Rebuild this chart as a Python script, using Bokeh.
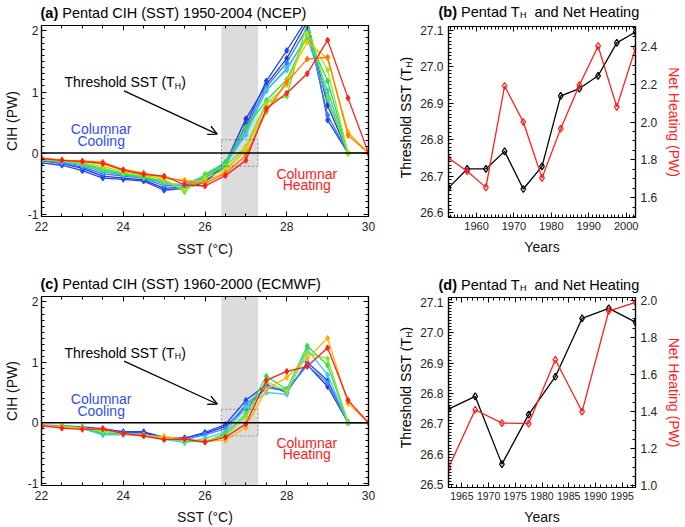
import math
from bokeh.plotting import figure
from bokeh.models import (Range1d, LinearAxis, SingleIntervalTicker, PrintfTickFormatter,
                          Label, Arrow, OpenHead, BoxAnnotation, Span, CustomLabelingPolicy)
from bokeh.layouts import row, column
from bokeh.embed import file_html
from bokeh.resources import INLINE

FONT = "Liberation Sans"

# ---------------- data ----------------
sst = [22.0, 22.5, 23.0, 23.5, 24.0, 24.5, 25.0, 25.5, 26.0, 26.5,
       27.0, 27.5, 28.0, 28.5, 29.0, 29.5, 30.0]

# (a) NCEP pentad CIH (PW), 1950-2004
ncep_1950 = [-0.13, -0.17, -0.25, -0.38, -0.41, -0.44, -0.58, -0.56, -0.46, -0.17, 0.56, 1.12, 1.55, 2.15, 0.78, 0.0, 0.0]
ncep_1955 = [-0.16, -0.20, -0.29, -0.41, -0.43, -0.46, -0.61, -0.58, -0.48, -0.21, 0.46, 1.18, 1.68, 2.20, 0.54, 0.0, 0.0]
ncep_1960 = [-0.12, -0.16, -0.23, -0.34, -0.38, -0.41, -0.54, -0.53, -0.41, -0.16, 0.42, 1.08, 1.48, 2.05, 0.62, 0.0, 0.0]
ncep_1965 = [-0.11, -0.15, -0.21, -0.31, -0.36, -0.39, -0.51, -0.51, -0.38, -0.19, 0.36, 1.02, 1.39, 1.90, 0.88, 0.0, 0.0]
ncep_1970 = [-0.10, -0.14, -0.19, -0.28, -0.34, -0.40, -0.48, -0.55, -0.36, -0.18, 0.30, 1.04, 1.36, 1.93, 1.02, 0.0, 0.0]
ncep_1975 = [-0.11, -0.12, -0.18, -0.27, -0.35, -0.41, -0.45, -0.63, -0.35, -0.15, 0.42, 0.86, 1.20, 1.92, 1.18, 0.0, 0.0]
ncep_1980 = [-0.12, -0.13, -0.17, -0.25, -0.33, -0.38, -0.47, -0.59, -0.38, -0.21, 0.10, 0.83, 0.93, 2.15, 0.91, 0.0, 0.0]
ncep_1985 = [-0.10, -0.12, -0.16, -0.22, -0.31, -0.36, -0.43, -0.61, -0.42, -0.27, 0.05, 0.80, 1.12, 1.95, 1.36, 0.0, 0.0]
ncep_1990 = [-0.09, -0.11, -0.14, -0.18, -0.28, -0.34, -0.41, -0.44, -0.48, -0.30, 0.08, 0.70, 1.18, 1.82, 1.55, 0.34, 0.0]
ncep_1995 = [-0.08, -0.12, -0.13, -0.15, -0.27, -0.33, -0.39, -0.47, -0.50, -0.33, -0.04, 0.68, 1.16, 1.54, 1.57, 0.29, 0.0]
ncep_2000 = [-0.09, -0.12, -0.14, -0.17, -0.28, -0.35, -0.38, -0.52, -0.54, -0.37, -0.12, 0.73, 0.98, 1.30, 1.85, 0.90, 0.0]

# (c) ECMWF pentad CIH (PW), 1960-2000
era_1960 = [-0.05, -0.06, -0.08, -0.12, -0.17, -0.17, -0.25, -0.25, -0.18, -0.06, 0.24, 0.58, 0.53, 0.96, 0.60, 0.0, 0.0]
era_1965 = [-0.04, -0.05, -0.07, -0.10, -0.15, -0.15, -0.24, -0.26, -0.16, -0.03, 0.37, 0.63, 0.50, 1.00, 0.70, 0.0, 0.0]
era_1970 = [-0.05, -0.07, -0.09, -0.19, -0.18, -0.20, -0.27, -0.28, -0.20, -0.10, 0.30, 0.58, 0.55, 0.95, 0.66, 0.0, 0.0]
era_1975 = [-0.06, -0.07, -0.10, -0.20, -0.20, -0.21, -0.27, -0.33, -0.26, -0.15, 0.25, 0.50, 0.47, 1.22, 0.79, 0.0, 0.0]
era_1980 = [-0.07, -0.05, -0.09, -0.17, -0.19, -0.20, -0.26, -0.30, -0.32, -0.18, 0.14, 0.77, 0.55, 1.27, 0.95, 0.0, 0.0]
era_1985 = [-0.06, -0.06, -0.08, -0.14, -0.18, -0.22, -0.25, -0.29, -0.30, -0.22, 0.10, 0.68, 0.52, 1.15, 1.06, 0.0, 0.0]
era_1990 = [-0.04, -0.07, -0.10, -0.10, -0.18, -0.21, -0.23, -0.27, -0.31, -0.29, -0.08, 0.55, 0.75, 1.06, 1.40, 0.32, 0.0]
era_1995 = [-0.05, -0.09, -0.11, -0.10, -0.18, -0.22, -0.28, -0.27, -0.32, -0.24, -0.02, 0.70, 0.85, 0.93, 1.24, 0.37, 0.0]

# threshold band and box (deg C, PW)
band_sst = [26.4, 27.3]
box_cih = [-0.22, 0.22]

# (b) NCEP pentad threshold SST and net heating
years_b = [1952.5, 1957.5, 1962.5, 1967.5, 1972.5, 1977.5, 1982.5, 1987.5, 1992.5, 1997.5, 2002.5]
th_b = [26.668, 26.72, 26.72, 26.768, 26.665, 26.727, 26.92, 26.94, 26.975, 27.065, 27.095]
heat_b = [1.81, 1.74, 1.655, 2.19, 2.0, 1.705, 1.965, 2.195, 2.40, 2.08, 2.39]

# (d) ECMWF pentad threshold SST and net heating
years_d = [1962.5, 1967.5, 1972.5, 1977.5, 1982.5, 1987.5, 1992.5, 1997.5]
th_d = [26.748, 26.79, 26.567, 26.73, 26.855, 27.047, 27.08, 27.035]
heat_d = [1.095, 1.41, 1.338, 1.335, 1.68, 1.40, 1.943, 1.99]

# ---------------- helpers ----------------
W = {' ': 278, '(': 333, ')': 333, '-': 333, '.': 278, 'A': 667, 'C': 722, 'D': 722,
     'E': 667, 'H': 722, 'I': 278, 'N': 722, 'P': 667, 'S': 667, 'T': 611, 'W': 944,
     'M': 833, 'F': 611, 'a': 556, 'd': 556, 'e': 556, 'g': 556, 'h': 556, 'i': 222,
     'l': 222, 'n': 556, 'o': 556, 'r': 333, 's': 500, 't': 278}
WB = {'(': 333, ')': 333, 'a': 556, 'b': 611, 'c': 556, 'd': 611, ' ': 278}

NO_LABELS = CustomLabelingPolicy(code="for (const i of indices) indices.unset(i)")


def tw(s, size, bold=False):
    tab = WB if bold else W
    return sum(tab.get(ch, 556) for ch in s) * size / 1000.0


def no_align(p):
    try:
        p.frame_align = False
    except AttributeError:
        pass


def label(p, x, y, text, dx=0, dy=0, size=14, color="black", bold=False,
          align="left", baseline="middle", angle=0.0):
    p.add_layout(Label(x=x, y=y, x_offset=dx, y_offset=dy, text=text, text_font=FONT,
                       text_font_size=f"{size}px", text_color=color,
                       text_font_style="bold" if bold else "normal",
                       text_align=align, text_baseline=baseline, angle=angle))


def rich(p, x, y, dx, dy, parts, size):
    off = dx
    for text, kind in parts:
        if kind == "gap":
            off += tw(text, size)
            continue
        fs = round(size * 0.62, 1) if kind == "sub" else size
        yo = dy - 3.5 if kind == "sub" else dy
        label(p, x, y, text, dx=off, dy=yo, size=fs, bold=(kind == "bold"))
        off += tw(text, fs, kind == "bold")


def rich_vertical(p, x, y, parts, size):
    total = 0
    for text, kind in parts:
        fs = round(size * 0.62, 1) if kind == "sub" else size
        total += tw(text, fs)
    off = -total / 2
    for text, kind in parts:
        fs = round(size * 0.62, 1) if kind == "sub" else size
        xo = 3.5 if kind == "sub" else 0
        label(p, x, y, text, dx=xo, dy=off, size=fs, angle=math.pi / 2)
        off += tw(text, fs)


def style_axis(ax, ticker, fmt="%d", labels=True, standoff=4, size="12px"):
    ax.ticker = ticker
    ax.formatter = PrintfTickFormatter(format=fmt)
    ax.major_tick_in = 5
    ax.major_tick_out = 0
    ax.minor_tick_in = 3
    ax.minor_tick_out = 0
    ax.axis_line_color = "black"
    ax.axis_line_width = 1.2
    ax.major_tick_line_color = "black"
    ax.minor_tick_line_color = "black"
    ax.major_tick_line_width = 1
    ax.minor_tick_line_width = 1
    ax.major_label_text_font = FONT
    ax.major_label_text_font_size = size
    ax.major_label_text_color = "#222222"
    ax.major_label_standoff = standoff
    if not labels:
        ax.major_label_policy = NO_LABELS
        ax.major_label_text_font_size = "2px"
        ax.major_label_standoff = 0
    ax.axis_label_text_font = FONT
    ax.axis_label_text_font_size = "14px"
    ax.axis_label_text_font_style = "normal"
    ax.axis_label_text_color = "#111111"


def make_fig(w, h, bl, br, bt, bb, xr, yr):
    p = figure(width=w, height=h, x_range=Range1d(*xr), y_range=Range1d(*yr),
               output_backend="svg", toolbar_location=None,
               min_border_left=bl, min_border_right=br, min_border_top=bt, min_border_bottom=bb,
               x_axis_type=None, y_axis_type=None)
    p.outline_line_color = "black"
    p.outline_line_width = 1.2
    p.background_fill_color = "white"
    p.border_fill_color = "white"
    no_align(p)
    return p


def strip(w, h):
    s = figure(width=w, height=h, x_range=Range1d(0, w), y_range=Range1d(0, h),
               output_backend="svg", toolbar_location=None, min_border=0,
               x_axis_type=None, y_axis_type=None)
    s.outline_line_color = None
    s.background_fill_color = "white"
    s.border_fill_color = "white"
    no_align(s)
    return s


def cih_panel(w, h, bl, br, bt, bb, series, lab_standoff):
    p = make_fig(w, h, bl, br, bt, bb, (22, 30), (-1.04, 2.09))
    p.add_layout(BoxAnnotation(left=band_sst[0], right=band_sst[1], fill_color="#dcdcdc",
                               fill_alpha=1.0, line_color=None, level="underlay"))
    for ys, col in series:
        p.line(sst, ys, line_color=col, line_width=1.3)
        p.scatter(sst, ys, marker="diamond", size=6, fill_color=col, line_color=col)
    p.add_layout(Span(location=0, dimension="width", line_color="black", line_width=1.5))
    p.add_layout(BoxAnnotation(left=band_sst[0], right=band_sst[1], bottom=box_cih[0], top=box_cih[1],
                               fill_alpha=0, line_color="black", line_width=1.2, line_dash="2 2"))
    bx = LinearAxis(axis_label="SST (°C)")
    style_axis(bx, SingleIntervalTicker(interval=2, num_minor_ticks=4), standoff=5)
    bx.axis_label_standoff = lab_standoff
    p.add_layout(bx, "below")
    tx = LinearAxis()
    style_axis(tx, SingleIntervalTicker(interval=2, num_minor_ticks=4), labels=False)
    p.add_layout(tx, "above")
    ly = LinearAxis(axis_label="CIH (PW)")
    style_axis(ly, SingleIntervalTicker(interval=1, num_minor_ticks=10), standoff=3)
    ly.axis_label_standoff = 5
    p.add_layout(ly, "left")
    ry = LinearAxis()
    style_axis(ry, SingleIntervalTicker(interval=1, num_minor_ticks=10), labels=False)
    p.add_layout(ry, "right")
    # texts inside the frame
    rich(p, 22.56, 1.16, 0, 0, [("Threshold SST (T", "n"), ("H", "sub"), (")", "n")], 14)
    p.add_layout(Arrow(end=OpenHead(size=9, line_width=1.3, line_color="black"),
                       x_start=24.02, y_start=1.02, x_end=26.3, y_end=0.31,
                       line_width=1.3, line_color="black"))
    label(p, 23.46, 0.39, "Columnar", size=14, color="#2f4df5", align="center")
    label(p, 23.46, 0.20, "Cooling", size=14, color="#2f4df5", align="center")
    label(p, 28.49, -0.34, "Columnar", size=14, color="#ff2020", align="center")
    label(p, 28.49, -0.52, "Heating", size=14, color="#ff2020", align="center")
    return p


def th_panel(w, h, bl, br, bt, bb, years, th, heat, xr, yl, yrr, xint, xminor, xsize):
    p = make_fig(w, h, bl, br, bt, bb, xr, yl)
    p.extra_y_ranges = {"heat": Range1d(*yrr)}
    p.line(years, th, line_color="black", line_width=1.3)
    p.scatter(years, th, marker="diamond", size=7, fill_color=None, line_color="black", line_width=1.2)
    p.line(years, heat, line_color="#ff1e1e", line_width=1.3, y_range_name="heat")
    p.scatter(years, heat, marker="diamond", size=7, fill_color=None, line_color="#ff1e1e",
              line_width=1.2, y_range_name="heat")
    bx = LinearAxis(axis_label="Years")
    style_axis(bx, SingleIntervalTicker(interval=xint, num_minor_ticks=xminor), standoff=4, size=xsize)
    bx.axis_label_standoff = 6
    p.add_layout(bx, "below")
    tx = LinearAxis()
    style_axis(tx, SingleIntervalTicker(interval=xint, num_minor_ticks=xminor), labels=False)
    p.add_layout(tx, "above")
    ly = LinearAxis()
    style_axis(ly, SingleIntervalTicker(interval=0.1, num_minor_ticks=10), fmt="%.1f", standoff=5)
    p.add_layout(ly, "left")
    ry = LinearAxis(y_range_name="heat", axis_label="Net Heating (PW)")
    style_axis(ry, SingleIntervalTicker(interval=0.2, num_minor_ticks=4), fmt="%.1f", standoff=5)
    ry.axis_label_standoff = 6
    ry.axis_label_text_color = "#ff1e1e"
    p.add_layout(ry, "right")
    return p


cols_a = ["#2e2ec8", "#1e46ff", "#2f7bff", "#3aa6ff", "#3cc8e6", "#2edc4e",
          "#6ee61e", "#a0e61e", "#ffc000", "#ff7a00", "#ff1e1e"]
series_a = list(zip([ncep_1950, ncep_1955, ncep_1960, ncep_1965, ncep_1970, ncep_1975,
                     ncep_1980, ncep_1985, ncep_1990, ncep_1995, ncep_2000], cols_a))
cols_c = ["#2e2ec8", "#1e46ff", "#3a8cff", "#46c8f0", "#32dc46", "#8ce628", "#ffb400", "#ff1e1e"]
series_c = list(zip([era_1960, era_1965, era_1970, era_1975, era_1980, era_1985,
                     era_1990, era_1995], cols_c))

TH_PARTS = [("Threshold SST (T", "n"), ("H", "sub"), (")", "n")]

# ----- left column -----
ta = strip(385, 21)
rich(ta, 40, 9, 0, 0, [("(a)", "bold"), (" ", "gap"), ("Pentad CIH (SST) 1950-2004 (NCEP)", "n")], 14.5)
pa = cih_panel(385, 249, 40, 17, 1, 54, series_a, 7)
tc = strip(385, 22)
rich(tc, 40, 9, 0, 0, [("(c)", "bold"), (" ", "gap"), ("Pentad CIH (SST) 1960-2000 (ECMWF)", "n")], 14.5)
pc = cih_panel(385, 235, 40, 17, 1, 41, series_c, 6)

# ----- right column -----
tb = strip(300, 22)
rich(tb, 53, 11, 0, 0, [("(b)", "bold"), (" ", "gap"), ("Pentad T", "n"), ("H", "sub"),
                        ("  ", "gap"), ("and Net Heating", "n")], 14.5)
sb = strip(28, 249)
rich_vertical(sb, 20, 154, TH_PARTS, 14)
pb = th_panel(272, 249, 35, 47, 1, 54, years_b, th_b, heat_b, (1952.5, 2002.5),
              (26.587, 27.11), (1.496, 2.504), 10, 10, "11px")
td = strip(300, 22)
rich(td, 53, 9, 0, 0, [("(d)", "bold"), (" ", "gap"), ("Pentad T", "n"), ("H", "sub"),
                       ("  ", "gap"), ("and Net Heating", "n")], 14.5)
sd = strip(28, 234)
rich_vertical(sd, 20, 140, TH_PARTS, 14)
pd = th_panel(272, 234, 35, 47, 1, 39, years_d, th_d, heat_d, (1962.5, 1997.5),
              (26.49, 27.116), (0.99, 2.016), 5, 5, "10.5px")

layout = row(column(ta, pa, tc, pc), column(tb, row(sb, pb), td, row(sd, pd)))
open("out.html", "w").write(file_html(layout, INLINE))
